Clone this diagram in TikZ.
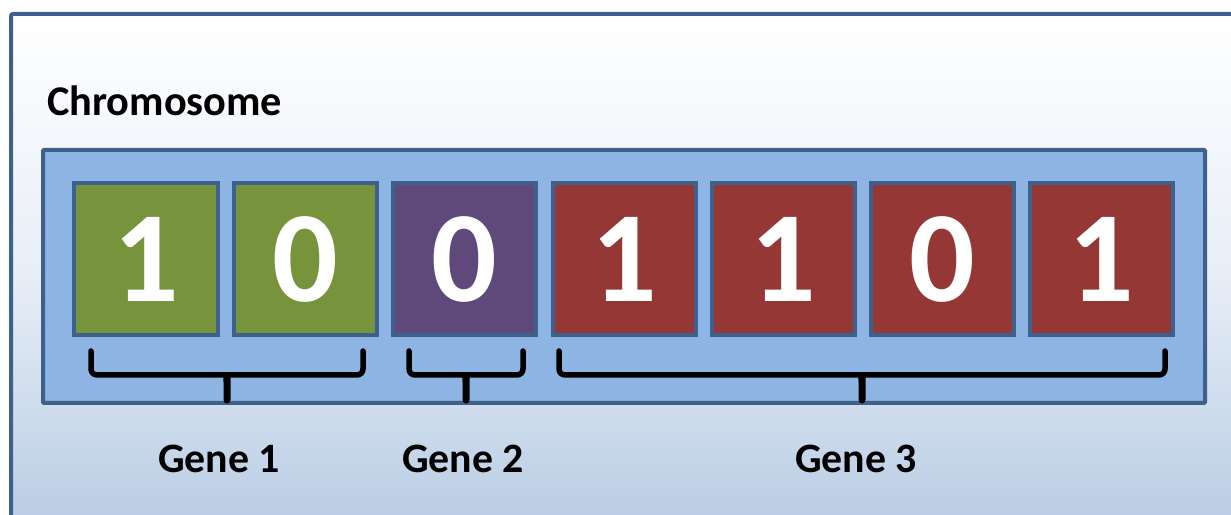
\documentclass[tikz,border=0pt]{standalone}
\usepackage{fontspec}
\setmainfont{Carlito}
\definecolor{frameblue}{RGB}{61,96,140}
\definecolor{chromfill}{RGB}{142,180,227}
\definecolor{bgbottom}{RGB}{184,204,228}
\definecolor{genegreen}{RGB}{119,147,60}
\definecolor{genepurple}{RGB}{95,73,122}
\definecolor{genered}{RGB}{149,55,53}
\tikzset{
  bit/.style={draw=frameblue, line width=4bp, minimum width=143bp, minimum height=152bp,
    inner sep=0pt, text=white, font=\fontsize{130}{130}\selectfont\bfseries},
  brace/.style={line width=5.5bp, line cap=round, line join=round, rounded corners=6bp},
  bracetip/.style={fill=black},
  genelabel/.style={font=\fontsize{42}{42}\selectfont\bfseries, inner sep=0pt}
}
% tapered middle tip of a brace, centred at x = #1 (y grows downwards here)
\newcommand{\bracetipat}[1]{%
  \fill[bracetip] (#1-6,374) .. controls (#1-3.5,376) .. (#1-3.5,382) -- (#1-3.5,400)
    arc[start angle=180, end angle=0, radius=3.5] -- (#1+3.5,382)
    .. controls (#1+3.5,376) .. (#1+6,374) -- cycle;}
\begin{document}
\begin{tikzpicture}[x=1bp, y=-1bp]
\useasboundingbox (0,0) rectangle (1231,515);
% outer panel with vertical gradient
\begin{scope}
  \clip (0,0) rectangle (1231,515);
  \shade[top color=white, bottom color=bgbottom, middle color={rgb,255:red,232;green,238;blue,247}]
    (11,14) rectangle (1245,530);
  \draw[frameblue, line width=4bp, rounded corners=2bp] (11,14) rectangle (1245,530);
\end{scope}
\node[font=\fontsize{42.5}{42.5}\selectfont\bfseries, anchor=base west, inner sep=0pt] (title) at (47,116) {Chromosome};
% chromosome bar
\draw[draw=frameblue, fill=chromfill, line width=4bp, rounded corners=1bp] (43,150) rectangle (1205,403);
% bits
\node[bit, fill=genegreen]  (c1) at (146,259) {1};
\node[bit, fill=genegreen]  (c2) at (305,259) {0};
\node[bit, fill=genepurple] (c3) at (464,259) {0};
\node[bit, fill=genered]    (c4) at (624,259) {1};
\node[bit, fill=genered]    (c5) at (783,259) {1};
\node[bit, fill=genered]    (c6) at (942,259) {0};
\node[bit, fill=genered]    (c7) at (1101,259) {1};
% braces grouping the bits into genes
\draw[brace] (91,351) -- (91,375) -- (363,375) -- (363,351);
\bracetipat{227}
\draw[brace] (409,351) -- (409,375) -- (523,375) -- (523,351);
\bracetipat{466}
\draw[brace] (559,351) -- (559,375) -- (1165,375) -- (1165,351);
\bracetipat{862}
% gene labels
\node[genelabel] (g1) at (219,459) {Gene 1};
\node[genelabel] (g2) at (463,459) {Gene 2};
\node[genelabel] (g3) at (856,459) {Gene 3};
\end{tikzpicture}
\end{document}
